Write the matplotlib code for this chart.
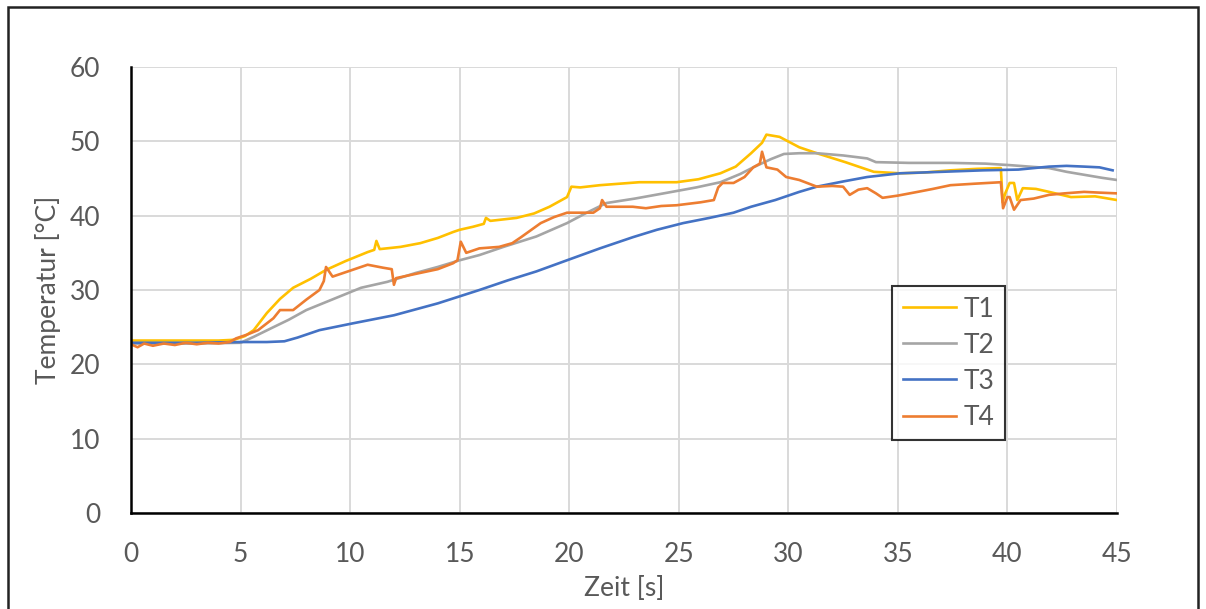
import matplotlib
matplotlib.use("Agg")
import matplotlib.pyplot as plt
from matplotlib.patches import Rectangle

# ---- data ----
t1_time = [0, 2, 4, 4.7, 5.2, 5.6, 6.2, 6.8, 7.4, 8.2, 8.9, 9.8, 10.8, 11.1, 11.2, 11.35, 12.3, 13.2, 14.0, 14.7,
           15.0, 15.6, 16.1, 16.2, 16.4, 17.6, 18.4, 19.1, 19.9, 20.1, 20.5, 21.4, 22.3, 23.2, 24.0, 24.9, 25.9,
           26.9, 27.6, 28.3, 28.8, 29.0, 29.6, 30.5, 31.3, 32.6, 33.9, 35.1, 36.2, 37.4, 38.6, 39.7, 39.78, 39.9,
           40.1, 40.3, 40.45, 40.7, 41.3, 41.9, 42.9, 44.0, 45]
t1_temp = [23.2, 23.2, 23.2, 23.3, 23.8, 24.6, 26.9, 28.8, 30.3, 31.5, 32.7, 33.9, 35.1, 35.4, 36.6, 35.5, 35.8,
           36.3, 37.0, 37.8, 38.1, 38.5, 38.9, 39.7, 39.3, 39.7, 40.3, 41.2, 42.5, 43.9, 43.8, 44.1, 44.3, 44.5,
           44.5, 44.5, 44.9, 45.7, 46.6, 48.4, 49.8, 50.9, 50.6, 49.2, 48.4, 47.2, 45.9, 45.7, 45.8, 46.1, 46.3,
           46.4, 41.8, 43.0, 44.4, 44.4, 42.1, 43.7, 43.6, 43.2, 42.5, 42.6, 42.1]

t2_time = [0, 3, 5.0, 5.6, 6.5, 7.2, 8.0, 9.0, 10.5, 11.7, 13.0, 14.0, 15.0, 15.9, 17.0, 18.5, 19.9, 20.8, 21.7,
           23.0, 24.5, 25.8, 26.9, 27.8, 28.4, 29.2, 29.8, 30.5, 31.3, 32.5, 33.6, 34.0, 35.5, 37.4, 39.0, 40.1,
           41.0, 41.9, 42.7, 43.5, 44.3, 45]
t2_temp = [22.8, 22.8, 22.9, 23.7, 25.0, 26.0, 27.3, 28.5, 30.3, 31.1, 32.3, 33.1, 34.0, 34.7, 35.8, 37.2, 39.0,
           40.4, 41.7, 42.3, 43.1, 43.8, 44.5, 45.6, 46.5, 47.6, 48.3, 48.4, 48.4, 48.1, 47.7, 47.2, 47.1, 47.1,
           47.0, 46.8, 46.6, 46.4, 45.9, 45.5, 45.1, 44.8]

t3_time = [0, 3, 5, 6.2, 7.0, 7.6, 8.6, 10.1, 12.0, 14.0, 15.9, 17.2, 18.5, 19.9, 21.4, 22.9, 24.0, 25.2, 26.4,
           27.5, 28.3, 29.4, 30.5, 31.3, 32.5, 33.6, 35.1, 37.0, 38.9, 40.5, 41.9, 42.7, 43.5, 44.2, 44.8]
t3_temp = [22.9, 22.9, 23.0, 23.0, 23.1, 23.6, 24.6, 25.5, 26.6, 28.2, 30.0, 31.3, 32.5, 34.0, 35.6, 37.1, 38.1,
           39.0, 39.7, 40.4, 41.2, 42.1, 43.2, 43.9, 44.6, 45.2, 45.7, 45.9, 46.1, 46.2, 46.6, 46.7, 46.6, 46.5,
           46.1]

t4_time = [0, 0.3, 0.6, 1.0, 1.5, 2.0, 2.5, 3.0, 3.5, 4.0, 4.5, 4.8, 5.3, 5.8, 6.5, 6.8, 7.4, 8.0, 8.6, 8.8, 8.9,
           9.2, 10.0, 10.8, 11.5, 11.9, 12.0, 12.1, 13.2, 14.0, 14.7, 14.9, 15.05, 15.3, 15.9, 16.8, 17.4, 17.8,
           18.7, 19.3, 19.9, 21.1, 21.4, 21.5, 21.7, 22.9, 23.5, 24.2, 24.9, 26.0, 26.6, 26.8, 27.0, 27.5, 28.0,
           28.4, 28.7, 28.8, 29.0, 29.5, 29.9, 30.5, 31.3, 32.0, 32.5, 32.8, 33.2, 33.6, 34.0, 34.3, 35.0, 35.9,
           36.6, 37.4, 38.5, 39.7, 39.8, 40.0, 40.1, 40.3, 40.6, 41.2, 41.9, 42.6, 43.5, 44.2, 45]
t4_temp = [22.7, 22.3, 22.8, 22.5, 22.8, 22.6, 22.9, 22.7, 22.9, 22.8, 23.0, 23.5, 24.0, 24.6, 26.2, 27.3, 27.3,
           28.7, 30.0, 31.2, 33.1, 31.8, 32.6, 33.4, 33.0, 32.8, 30.7, 31.6, 32.3, 32.8, 33.6, 34.0, 36.5, 35.0,
           35.6, 35.8, 36.3, 37.1, 39.0, 39.8, 40.4, 40.4, 41.0, 42.1, 41.2, 41.2, 41.0, 41.3, 41.4, 41.8, 42.1,
           43.8, 44.4, 44.4, 45.2, 46.5, 47.0, 48.6, 46.5, 46.2, 45.2, 44.8, 43.9, 44.0, 43.9, 42.8, 43.5, 43.7,
           43.0, 42.4, 42.7, 43.2, 43.6, 44.1, 44.3, 44.5, 41.0, 42.5, 42.5, 40.8, 42.1, 42.3, 42.8, 43.0, 43.2,
           43.1, 43.0]

series_names = ["T1", "T2", "T3", "T4"]
series_colors = ["#FFC000", "#A5A5A5", "#4472C4", "#ED7D31"]
x_ticks = [0, 5, 10, 15, 20, 25, 30, 35, 40, 45]
y_ticks = [0, 10, 20, 30, 40, 50, 60]
x_label = "Zeit [s]"
y_label = "Temperatur [°C]"

# ---- plotting ----
plt.rcParams['font.family'] = ['Lato', 'DejaVu Sans']
text_col = "#595959"
fs = 19

fig = plt.figure(figsize=(12.06, 6.09), dpi=100)
ax = fig.add_axes([131/1206, 1 - 513/609, (1117-131)/1206, (513-67)/609])

series = [(t1_time, t1_temp), (t2_time, t2_temp), (t3_time, t3_temp), (t4_time, t4_temp)]
for (tx, ty), name, col in zip(series, series_names, series_colors):
    ax.plot(tx, ty, color=col, lw=1.9, label=name, solid_joinstyle='round')

ax.set_xlim(0, 45)
ax.set_ylim(0, 60)
ax.set_xticks(x_ticks)
ax.set_yticks(y_ticks)
ax.grid(True, color="#D9D9D9", lw=1.4)
ax.set_axisbelow(True)
for s in ["top", "right"]:
    ax.spines[s].set_visible(False)
for s in ["left", "bottom"]:
    ax.spines[s].set_color("black")
    ax.spines[s].set_linewidth(1.8)
ax.tick_params(length=0, labelsize=fs, labelcolor=text_col)
ax.tick_params(axis='y', pad=22)
ax.tick_params(axis='x', pad=21)
ax.set_xlabel(x_label, fontsize=fs, color=text_col, labelpad=6)
ax.set_ylabel(y_label, fontsize=fs, color=text_col, labelpad=6)

leg = ax.legend(loc="upper left", bbox_to_anchor=(0.772, 0.509), fontsize=fs,
                frameon=True, fancybox=False, edgecolor="black", handlelength=2.0,
                labelspacing=0.42, borderpad=0.4, handletextpad=0.3, borderaxespad=0)
leg.get_frame().set_linewidth(1.5)
for txt in leg.get_texts():
    txt.set_color(text_col)

# outer chart border
fig.patches.append(Rectangle((8/1206, -0.05), (1198-8)/1206, 1 - 7/609 + 0.05,
                             transform=fig.transFigure, fill=False, edgecolor="#222222",
                             lw=1.8, clip_on=False))

fig.savefig("out.png", dpi=100)
